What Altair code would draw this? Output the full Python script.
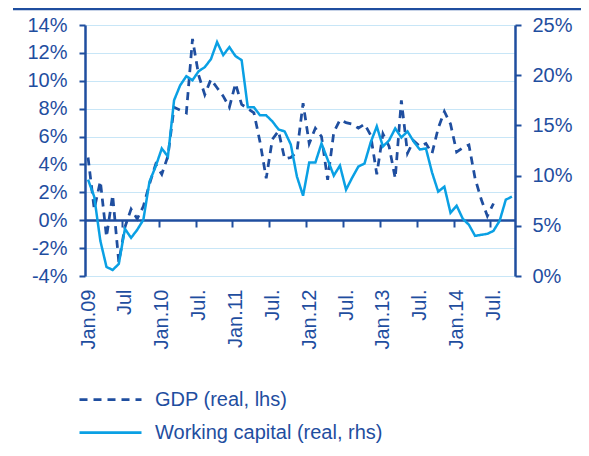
import altair as alt
import pandas as pd

# ---- data ----
series_names = ["GDP (real, lhs)", "Working capital (real, rhs)"]

gdp = [4.5, 0.8, 2.8, -1.2, 1.8, -3.0, -0.5, 0.8, 0.1, 1.0,
       2.6, 4.0, 3.3, 4.6, 8.1, 7.9, 7.7, 13.0, 10.4, 9.0,
       10.1, 9.5, 8.9, 8.1, 9.8, 8.3, 8.0, 7.7, 5.6, 3.0,
       5.8, 6.4, 4.4, 4.5, 4.9, 8.4, 5.5, 6.6, 6.0, 2.9,
       6.3, 7.2, 7.0, 6.9, 6.6, 6.9, 6.1, 3.3, 6.2, 5.3,
       3.0, 8.6, 4.8, 5.7, 5.3, 5.5, 4.8, 6.6, 7.8, 6.9,
       4.9, 5.2, 5.4, 3.0, 1.5, 0.3, 1.2]

wc = [9.6, 7.9, 3.5, 0.9, 0.6, 1.2, 4.7, 3.8, 4.6, 5.6,
      9.4, 10.9, 12.7, 11.9, 17.5, 19.0, 19.9, 19.5, 20.4, 20.8,
      21.6, 23.3, 22.0, 22.8, 21.9, 21.5, 16.8, 16.8, 16.0, 16.0,
      15.4, 14.6, 14.4, 13.1, 9.9, 8.0, 11.3, 11.3, 13.2, 11.6,
      10.0, 11.0, 8.6, 9.8, 10.9, 11.2, 13.3, 14.9, 12.9, 13.5,
      14.7, 13.8, 14.4, 13.4, 12.6, 12.7, 10.3, 8.4, 8.9, 6.3,
      7.0, 5.7, 5.1, 4.0, 4.1, 4.2, 4.5, 5.5, 7.6, 7.9]

tick_labels = ["Jan.09", "Jul", "Jan.10", "Jul.", "Jan.11", "Jul.",
               "Jan.12", "Jul.", "Jan.13", "Jul.", "Jan.14", "Jul."]
left_ticks = [-4, -2, 0, 2, 4, 6, 8, 10, 12, 14]
right_ticks = [0, 5, 10, 15, 20, 25]

# ---- style ----
DARK = "#1F4E9F"
LIGHT = "#0AA0E4"
GRID = "#C8E6F7"
FONT = "Liberation Sans"
FS = 20

n_months = len(wc)
gdp_df = pd.DataFrame({"m": list(range(len(gdp))), "v": gdp, "series": series_names[0]})
wc_df = pd.DataFrame({"m": list(range(len(wc))), "v": wc, "series": series_names[1]})

label_values = [6 * k for k in range(len(tick_labels))]
tick_values = [6 * k - 0.5 for k in range(1, len(tick_labels) + 1)]
label_expr = "[" + ",".join("'" + t + "'" for t in tick_labels) + "][round(datum.value/6)]"

xscale = alt.Scale(domain=[-0.5, n_months - 0.5], nice=False, zero=False)


def make_legend(y):
    return alt.Legend(
        title=None, orient="none", legendX=-7, legendY=y, direction="vertical",
        symbolType="stroke", symbolSize=3844, symbolStrokeWidth=2.75,
        labelFont=FONT, labelFontSize=FS, labelColor=DARK, labelOffset=12,
        padding=0, labelLimit=400,
    )


gdp_legend = make_legend(342)
wc_legend = make_legend(375)

x_label_axis = alt.Axis(
    values=label_values, labelExpr=label_expr, labelAngle=-90, domain=False, ticks=False,
    labelPadding=13, grid=False, title=None, orient="bottom",
    labelFont=FONT, labelFontSize=FS, labelColor=DARK,
)
x_tick_axis = alt.Axis(
    values=tick_values, labels=False, domain=True, domainColor=DARK, domainWidth=2.5,
    ticks=True, tickColor=DARK, tickWidth=2, tickSize=7, offset=-56,
    grid=False, title=None, orient="bottom",
)

left_axis = alt.Axis(
    values=left_ticks, labelExpr="datum.value + '%'", orient="left",
    domainColor=DARK, domainWidth=2.5, tickColor=DARK, tickWidth=2, tickSize=6,
    labelFont=FONT, labelFontSize=FS, labelColor=DARK, labelPadding=12,
    grid=True, gridColor=GRID, gridWidth=1, title=None,
)
right_axis = alt.Axis(
    values=right_ticks, labelExpr="datum.value + '%'", orient="right",
    domainColor=DARK, domainWidth=2.5, tickColor=DARK, tickWidth=2, tickSize=6,
    labelFont=FONT, labelFontSize=FS, labelColor=DARK, labelPadding=11,
    grid=False, title=None,
)

wc_line = alt.Chart(wc_df).mark_line(strokeWidth=2.5).encode(
    x=alt.X("m:Q", scale=xscale, axis=x_tick_axis),
    y=alt.Y("v:Q", scale=alt.Scale(domain=[0, 25], nice=False, zero=False), axis=right_axis),
    color=alt.Color("series:N", scale=alt.Scale(domain=[series_names[1]], range=[LIGHT]), legend=wc_legend),
    strokeDash=alt.StrokeDash("series:N", scale=alt.Scale(domain=[series_names[1]], range=[[1, 0]]), legend=wc_legend),
)

gdp_line = alt.Chart(gdp_df).mark_line(strokeWidth=2.75).encode(
    x=alt.X("m:Q", scale=xscale, axis=x_label_axis),
    y=alt.Y("v:Q", scale=alt.Scale(domain=[-4, 14], nice=False, zero=False), axis=left_axis),
    color=alt.Color("series:N", scale=alt.Scale(domain=[series_names[0]], range=[DARK]), legend=gdp_legend),
    strokeDash=alt.StrokeDash("series:N", scale=alt.Scale(domain=[series_names[0]], range=[[8, 6]]), legend=gdp_legend),
)

top_rule = alt.Chart(pd.DataFrame({"a": [0]})).mark_rule(color=DARK, strokeWidth=2.5).encode(
    x=alt.value(-72), x2=alt.value(496), y=alt.value(-16)
)

chart = alt.layer(gdp_line, wc_line, top_rule).resolve_scale(
    y="independent", x="shared", color="independent", strokeDash="independent"
).resolve_axis(x="independent").properties(
    width=430, height=251,
    autosize=alt.AutoSizeParams(type="none"),
    padding={"left": 77, "top": 17, "right": 66, "bottom": 172},
    background="white",
).configure_view(stroke=None)

chart.save("out.html", embed_options={"renderer": "svg", "actions": False})
